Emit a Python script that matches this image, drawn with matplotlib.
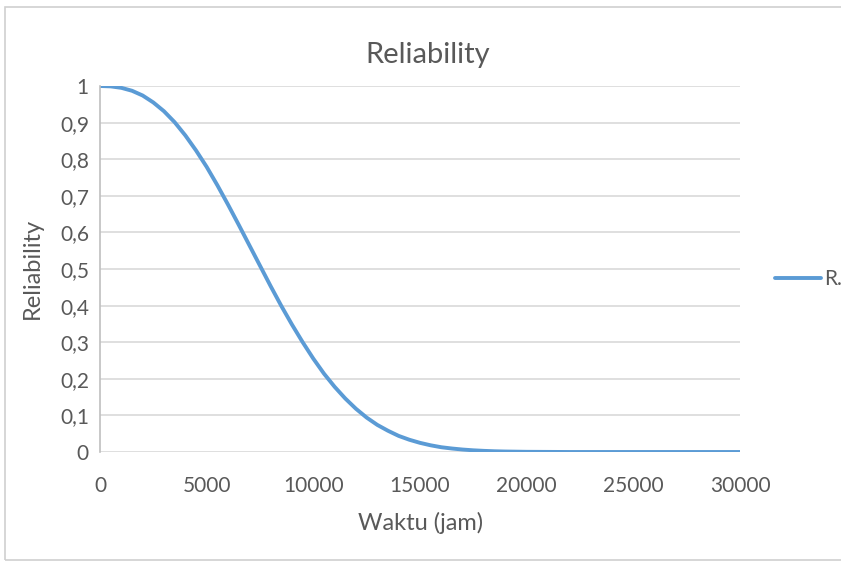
import matplotlib
matplotlib.use("Agg")
import matplotlib.pyplot as plt
from matplotlib.patches import Rectangle
from matplotlib.ticker import FuncFormatter

# Waktu operasi (jam) dan nilai reliability R(t)
waktu = [0, 500, 1000, 1500, 2000, 2500, 3000, 3500, 4000, 4500, 5000, 5500,
         6000, 6500, 7000, 7500, 8000, 8500, 9000, 9500, 10000, 10500, 11000,
         11500, 12000, 12500, 13000, 13500, 14000, 14500, 15000, 15500, 16000,
         16500, 17000, 17500, 18000, 18500, 19000, 20000, 22000, 25000, 30000]
reliability = [1.0, 0.999, 0.995, 0.987, 0.974, 0.955, 0.931, 0.901, 0.865,
               0.824, 0.779, 0.729, 0.676, 0.621, 0.565, 0.509, 0.453, 0.399,
               0.348, 0.300, 0.255, 0.214, 0.178, 0.146, 0.118, 0.094, 0.074,
               0.058, 0.044, 0.0335, 0.025, 0.0183, 0.013, 0.0095, 0.0067,
               0.0046, 0.0031, 0.002, 0.0013, 0.0005, 0.0, 0.0, 0.0]

x_ticks = [0, 5000, 10000, 15000, 20000, 25000, 30000]
y_ticks = [0, 0.1, 0.2, 0.3, 0.4, 0.5, 0.6, 0.7, 0.8, 0.9, 1]

abu = "#595959"
biru = "#5B9BD5"
plt.rcParams["font.family"] = ["Lato", "DejaVu Sans"]

fig = plt.figure(figsize=(8.41, 5.64), dpi=100)
fig.patches.append(Rectangle((5 / 841, 4 / 564), 1.0, 1 - 11 / 564,
                             transform=fig.transFigure, fill=False,
                             edgecolor="#d0d0d0", linewidth=1.2))

ax = fig.add_axes([100 / 841, 1 - 452 / 564, 640 / 841, 366 / 564])
ax.plot(waktu, reliability, color=biru, linewidth=2.8, label="R.",
        solid_capstyle="round", solid_joinstyle="round")

ax.set_xlim(0, 30000)
ax.set_ylim(0, 1)
ax.set_xticks(x_ticks)
ax.set_yticks(y_ticks)
ax.yaxis.set_major_formatter(FuncFormatter(
    lambda v, p: "0" if v == 0 else ("1" if v == 1 else f"{v:.1f}".replace(".", ","))))
ax.tick_params(axis="x", pad=17)
ax.tick_params(axis="y", pad=8)
ax.tick_params(length=0, colors=abu, labelsize=15)
ax.grid(axis="y", color="#d9d9d9", linewidth=1.2)
ax.set_axisbelow(True)
for s in ["top", "right", "bottom"]:
    ax.spines[s].set_visible(False)
ax.spines["left"].set_color("#bfbfbf")
ax.spines["left"].set_linewidth(1.2)

fig.text(428 / 841, 1 - 55 / 564, "Reliability", color=abu, fontsize=21,
         ha="center", va="center")
fig.text(421 / 841, 1 - 523 / 564, "Waktu (jam)", color=abu, fontsize=17,
         ha="center", va="center")
fig.text(32 / 841, 1 - 268 / 564, "Reliability", color=abu, fontsize=17,
         ha="center", va="center", rotation=90)

ax.legend(loc="center left", bbox_to_anchor=(765 / 841, 1 - 279 / 564),
          bbox_transform=fig.transFigure, frameon=False, fontsize=15,
          handlelength=2.2, handletextpad=0.15, borderpad=0, labelcolor=abu)

fig.savefig("out.png", dpi=100)
